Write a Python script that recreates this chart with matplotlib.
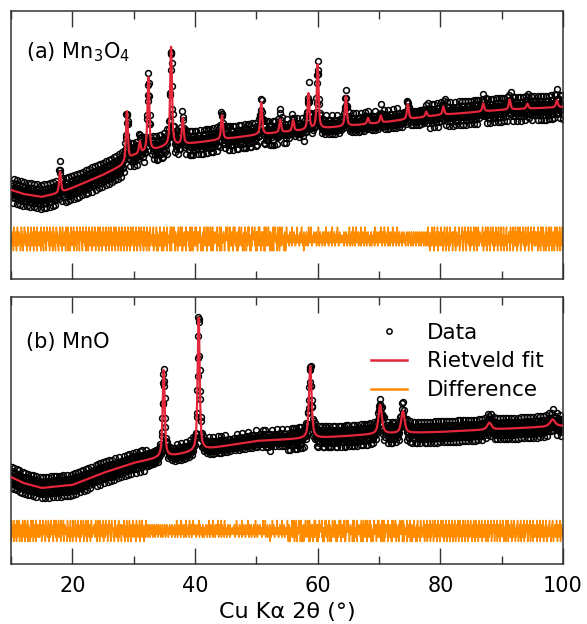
import numpy as np
import matplotlib.pyplot as plt
from matplotlib.ticker import MultipleLocator

plt.rcParams['font.family'] = ['DejaVu Sans']

# background knots (2theta, intensity in arb. units)
bg_a_x = [10, 12, 15, 18, 20, 25, 28, 30, 35, 40, 50, 60, 70, 80, 90, 100]
bg_a_y = [89, 85, 82, 86, 91, 104, 113, 123, 132, 136, 144, 150, 156, 164, 169, 172]
bg_b_x = [10, 12, 15, 20, 25, 30, 34, 37, 42, 50, 60, 70, 80, 90, 100]
bg_b_y = [87, 81, 76, 79, 91, 101, 106, 109, 115, 123, 126, 130, 132, 135, 138]

# Bragg peaks: position, height above background, fwhm
pk_a_pos = [18.0, 28.9, 31.0, 32.4, 36.1, 38.0, 44.4, 50.8, 53.9, 56.0, 58.5,
            60.0, 64.6, 68.2, 70.3, 74.7, 77.7, 80.5, 87.0, 91.3, 94.2, 99.0]
pk_a_amp = [21, 50, 12, 74, 99, 26, 24, 32, 13, 11, 36,
            64, 30, 6, 7, 15, 5, 8, 8, 10, 5, 7]
pk_a_fwhm = [0.35] * len(pk_a_pos)

pk_b_pos = [34.9, 40.6, 58.8, 70.2, 73.9, 88.0, 98.3]
pk_b_amp = [87, 133, 72, 29, 22, 7, 7]
pk_b_fwhm = [0.4, 0.4, 0.5, 0.65, 0.65, 0.8, 1.0]

# residual (obs - calc), coded as digits -> LEVELS
LEVELS = [3.6, -2.7, -1.6, -0.9, -0.35, 0.0, 0.35, 0.9, 1.6, 2.7]
RESID_DIGITS = (
    "463752841956372485163947258463715294836152749368425713694852736149572836451937268453917264"
    "538264719357482619374856213947568327194658237416958342716593847261538947265381947625384719"
    "647381925463718294657382916453872619437586213947658231974653827419365827143956287341695827"
    "372946185374629518473962851736495827364195837462918573649281537469283715946382751649372851"
    "594736281459637284165937428163957284639571842653974182653947281659374826159437286519473826"
    "618293475562839147725364918834175629946271583351896274482719365573628194219847536695318427"
    "347185926628493751914726385253917648786254139431869572168532794592471836875396214324718659"
    "782546391137968245469312857915284736358471962624739185291657348873125694546893217139762584"
    "254819637963275418317648925648392571725186394481537269896421753132974586579263148618354972"
    "936417285472853196185296437329648751864731529217584963743169825651928374298375641485612397"
    "456374526837456293746538457264539847365427384659374625184736542837465293746583947256374856"
    "374658264735946273845637428563748256394763548273645837462954736485273645839465273846537465"
    "563748257364835726475839264573846295738465273948567382645738294657384625739486527364857362"
    "647382546375846293754683725463847569374628475639284756374829465738264573849265374856372649"
    "735462847536478265347586342765487362548736452874635287463758246358746235874362587463528746"
    "462837465928374165738294657381946527384695172846357294863715284936517482936457182934657381"
    "358473629184756243879516324758693214875963241857639428576193248756329417856932418759632485"
    "547362894715382649573182946357281946537829461573829456371829465372891465372981645372891456"
    "673845219738465291738452967384159267348951627384965273815946273584916273854962718345962738"
    "284736519473825619745832961574328619475238619745382961574823619745382691754382961547382916"
)

diff_a_offset = 40
diff_b_offset = 33
noise_a = 4.4
noise_b = 3.9


def profile(x, bx, by, pos, amp, fwhm, eta=0.7):
    y = np.interp(x, bx, by)
    for c, h, w in zip(pos, amp, fwhm):
        u = (x - c) / w
        y = y + h * (eta / (1 + 4 * u ** 2) + (1 - eta) * np.exp(-4 * np.log(2) * u ** 2))
    return y


resid = np.array([LEVELS[int(d)] for d in RESID_DIGITS])
x_obs = np.linspace(10, 100, len(resid))
x_fit = np.linspace(10, 100, 4501)

red = '#e3263a'
orange = '#ff8c00'
spine_col = '#333333'

fig = plt.figure(figsize=(5.87, 6.24), dpi=100)
ax_a = fig.add_axes([0.0187, 0.553, 0.9404, 0.4295])
ax_b = fig.add_axes([0.0187, 0.0962, 0.9404, 0.4279])

panels = [
    (ax_a, bg_a_x, bg_a_y, pk_a_pos, pk_a_amp, pk_a_fwhm, resid * noise_a, diff_a_offset, 268),
    (ax_b, bg_b_x, bg_b_y, pk_b_pos, pk_b_amp, pk_b_fwhm, resid[::-1] * noise_b, diff_b_offset, 267),
]

for ax, bx, by, pos, amp, fw, r, off, ytop in panels:
    y_fit = profile(x_fit, bx, by, pos, amp, fw)
    y_obs = profile(x_obs, bx, by, pos, amp, fw) + r
    ax.plot(x_obs, y_obs, 'o', mfc='none', mec='black', ms=4.2, mew=1.1,
            label='Data', zorder=2)
    ax.plot(x_fit, y_fit, color=red, lw=1.6, label='Rietveld fit', zorder=3)
    ax.plot(x_obs, r + off, color=orange, lw=1.1, label='Difference', zorder=2)

    ax.set_xlim(10, 100)
    ax.set_ylim(0, ytop)
    ax.set_yticks([])
    ax.xaxis.set_major_locator(MultipleLocator(20))
    ax.xaxis.set_minor_locator(MultipleLocator(10))
    ax.tick_params(axis='x', which='both', direction='in', top=True, bottom=True,
                   color=spine_col, width=1.0)
    ax.tick_params(axis='x', which='major', length=11.5, labelsize=15, pad=9)
    ax.tick_params(axis='x', which='minor', length=5.5)
    for s in ax.spines.values():
        s.set_color(spine_col)
        s.set_linewidth(1.1)

ax_a.tick_params(axis='x', labelbottom=False)

ax_a.text(0.027, 0.847, '(a) Mn$_3$O$_4$', transform=ax_a.transAxes,
          fontsize=15, va='center', ha='left')
ax_b.text(0.027, 0.831, '(b) MnO', transform=ax_b.transAxes,
          fontsize=15, va='center', ha='left')

ax_b.set_xlabel('Cu K\u03b1 2\u03b8 (\u00b0)', fontsize=16, labelpad=4)

leg = ax_b.legend(loc='upper left', bbox_to_anchor=(0.652, 0.903), frameon=False,
                  fontsize=15.5, numpoints=1, handlelength=1.7, handletextpad=0.9,
                  labelspacing=0.4, borderpad=0, borderaxespad=0)
for h in leg.legend_handles:
    if h.get_linestyle() != 'None':
        h.set_linewidth(1.8)
    else:
        h.set_markersize(3.8)

fig.savefig('out.png', dpi=100)
